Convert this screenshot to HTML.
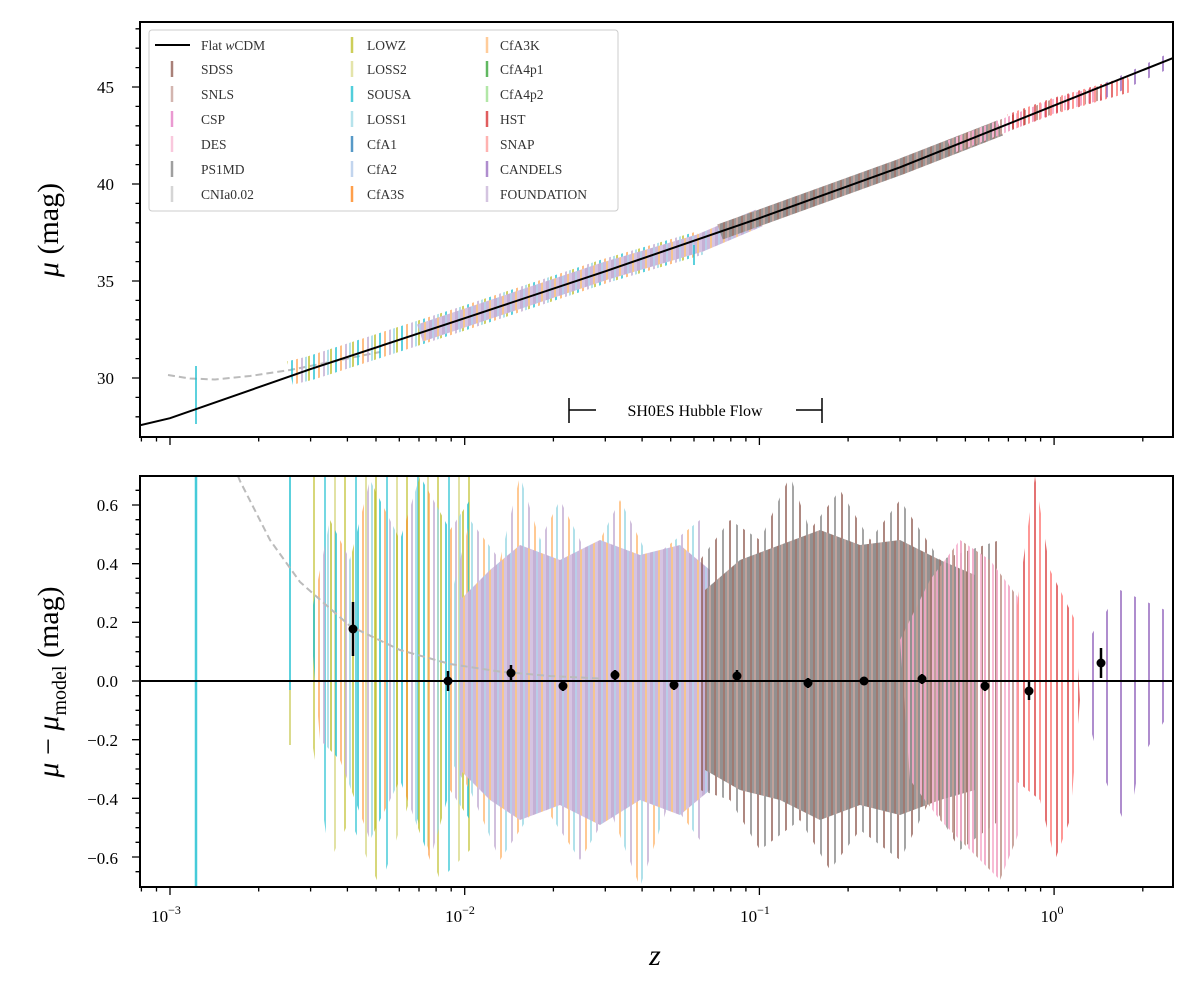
<!DOCTYPE html>
<html><head><meta charset="utf-8"><style>
html,body{margin:0;padding:0;background:#fff;}
svg{display:block;font-family:"Liberation Serif",serif;}
</style></head><body>
<svg width="1202" height="981" viewBox="0 0 1202 981" xmlns="http://www.w3.org/2000/svg">
<defs>
<clipPath id="c1"><rect x="140" y="22" width="1033" height="415"/></clipPath>
<clipPath id="c2"><rect x="140" y="476" width="1033" height="411"/></clipPath>
<pattern id="pLow" patternUnits="userSpaceOnUse" width="22" height="10">
<rect x="0" width="2" height="10" fill="#bcbd22" fill-opacity="0.7"/>
<rect x="5" width="2" height="10" fill="#17becf" fill-opacity="0.7"/>
<rect x="10" width="2" height="10" fill="#ff7f0e" fill-opacity="0.5"/>
<rect x="15" width="2" height="10" fill="#c5b0d5" fill-opacity="0.8"/>
<rect x="19" width="2" height="10" fill="#9edae5" fill-opacity="0.8"/>
</pattern>
<pattern id="pLow2" patternUnits="userSpaceOnUse" width="31" height="10">
<rect x="3" width="2" height="10" fill="#bcbd22" fill-opacity="0.6"/>
<rect x="14" width="2" height="10" fill="#17becf" fill-opacity="0.6"/>
<rect x="24" width="2" height="10" fill="#dbdb8d" fill-opacity="0.8"/>
</pattern>
<pattern id="pMid" patternUnits="userSpaceOnUse" width="13" height="10">
<rect x="0" width="3" height="10" fill="#c5b0d5"/>
<rect x="3" width="2" height="10" fill="#b9cde8"/>
<rect x="5" width="3" height="10" fill="#cdb9dc"/>
<rect x="8" width="2" height="10" fill="#f5c590"/>
<rect x="10" width="3" height="10" fill="#d6c4e2"/>
</pattern>
<pattern id="pMid2" patternUnits="userSpaceOnUse" width="17" height="10">
<rect x="1" width="2" height="10" fill="#c5b0d5" fill-opacity="0.8"/>
<rect x="7" width="2" height="10" fill="#ffbb78" fill-opacity="0.8"/>
<rect x="12" width="2" height="10" fill="#9edae5" fill-opacity="0.8"/>
</pattern>
<pattern id="pHigh" patternUnits="userSpaceOnUse" width="9" height="10">
<rect x="0" width="3" height="10" fill="#939090"/>
<rect x="3" width="2" height="10" fill="#a07a72"/>
<rect x="5" width="2" height="10" fill="#9a9898"/>
<rect x="7" width="2" height="10" fill="#c0a29c"/>
</pattern>
<pattern id="pHigh2" patternUnits="userSpaceOnUse" width="14" height="10">
<rect x="1" width="2" height="10" fill="#8c564b" fill-opacity="0.7"/>
<rect x="8" width="2" height="10" fill="#7f7f7f" fill-opacity="0.7"/>
</pattern>
<pattern id="pPink" patternUnits="userSpaceOnUse" width="12" height="10">
<rect x="0" width="2" height="10" fill="#f2a7c6"/>
<rect x="4" width="2" height="10" fill="#c49c94"/>
<rect x="8" width="2" height="10" fill="#f7b6d2"/>
</pattern>
<pattern id="pRed" patternUnits="userSpaceOnUse" width="11" height="10">
<rect x="0" width="2" height="10" fill="#d62728" fill-opacity="0.65"/>
<rect x="5" width="2" height="10" fill="#ff9896"/>
</pattern>
<pattern id="pPurp" patternUnits="userSpaceOnUse" width="14" height="10">
<rect x="0" width="2" height="10" fill="#9467bd" fill-opacity="0.75"/>
</pattern>
</defs>
<rect width="1202" height="981" fill="#fff"/>

<!-- TOP PANEL DATA -->
<g clip-path="url(#c1)">
<path d="M168,375 L190,378.5 L215,379.5 L250,376 L290,370 L330,362 L380,352" fill="none" stroke="#bbb" stroke-width="2" stroke-dasharray="7,4"/>
<path d="M290,373 L310.6,368 L464.7,318 L605.3,271 L700,243" fill="none" stroke="url(#pLow)" stroke-width="24"/>
<path d="M420,333 L464.7,318 L605.3,271 L700,243 L759,218" fill="none" stroke="url(#pMid)" stroke-width="18"/>
<path d="M720,232 L759,218 L900,167 L1000,128" fill="none" stroke="url(#pHigh)" stroke-width="16"/>
<path d="M950,147 L1054,106 L1100,93" fill="none" stroke="url(#pPink)" stroke-width="14"/>
<path d="M1010,122 L1054,106 L1130,84" fill="none" stroke="url(#pRed)" stroke-width="16"/>
<path d="M1100,93 L1171,60" fill="none" stroke="url(#pPurp)" stroke-width="14"/>
<line x1="196" y1="366" x2="196" y2="424" stroke="#17becf" stroke-width="2" stroke-opacity="0.7"/>
<line x1="694" y1="245" x2="694" y2="265" stroke="#17becf" stroke-width="2" stroke-opacity="0.7"/>
<path d="M140,425.3 L170,418.2 L310.6,369.1 L464.7,318.2 L605.3,271.3 L759,218.3 L900,167.3 L1054,105.6 L1173,58" fill="none" stroke="#000" stroke-width="2"/>
</g>

<!-- BOTTOM PANEL DATA -->
<g clip-path="url(#c2)">
<line x1="196" y1="476" x2="196" y2="887" stroke="#17becf" stroke-width="2.5" stroke-opacity="0.8"/>
<line x1="290" y1="476" x2="290" y2="715" stroke="#17becf" stroke-width="2" stroke-opacity="0.7"/>
<line x1="290" y1="690" x2="290" y2="745" stroke="#dbdb8d" stroke-width="2"/>
<polygon points="305,476 470,476 470,850 440,880 410,800 380,887 350,820 330,860 315,760 305,700" fill="url(#pLow2)"/>
<polygon points="310,620 330,520 350,560 370,480 400,540 420,476 450,530 470,500 470,820 450,790 430,860 400,780 370,840 340,760 320,740" fill="url(#pLow)"/>
<polygon points="450,600 470,520 500,560 520,476 540,540 560,500 590,560 620,500 650,560 700,520 700,840 670,800 640,887 610,810 580,860 540,800 500,860 470,790 450,760" fill="url(#pMid2)"/>
<polygon points="460,600 490,570 520,545 560,560 600,540 640,555 680,545 710,570 710,790 680,815 640,800 600,825 560,805 520,820 490,800 460,770" fill="url(#pMid)"/>
<polygon points="700,560 730,520 760,540 790,476 810,530 840,490 870,540 900,500 940,560 1000,540 1000,820 960,850 930,800 900,860 860,830 830,870 800,820 760,850 730,800 700,790" fill="url(#pHigh2)"/>
<polygon points="705,590 740,560 780,545 820,530 860,545 900,540 940,560 975,575 975,790 940,800 900,815 860,805 820,820 780,800 740,790 705,770" fill="url(#pHigh)"/>
<polygon points="900,640 930,580 960,540 990,560 1020,600 1020,830 1000,880 970,850 940,820 910,780" fill="url(#pPink)" fill-opacity="0.9"/>
<polygon points="1015,620 1035,476 1050,570 1075,620 1080,700 1070,820 1055,860 1040,800 1015,780" fill="url(#pRed)"/>
<polygon points="1088,640 1120,590 1165,610 1165,720 1140,760 1128,830 1105,780 1088,720" fill="url(#pPurp)"/>
<path d="M238,476 L240,481 L270,540 L300,582 L350,626 L400,650 L450,664 L500,671.6 L550,676 L600,678.5" fill="none" stroke="#bbb" stroke-width="2" stroke-dasharray="7,4"/>
<line x1="140" y1="681" x2="1173" y2="681" stroke="#000" stroke-width="2"/>
<g stroke="#000" stroke-width="2.5">
<line x1="353" y1="602" x2="353" y2="656"/><line x1="448" y1="671" x2="448" y2="691"/><line x1="511" y1="665" x2="511" y2="681"/>
<line x1="563" y1="681" x2="563" y2="691"/><line x1="615" y1="670" x2="615" y2="680"/><line x1="674" y1="680" x2="674" y2="690"/>
<line x1="737" y1="670" x2="737" y2="682"/><line x1="808" y1="678" x2="808" y2="688"/><line x1="864" y1="677" x2="864" y2="685"/>
<line x1="922" y1="674" x2="922" y2="684"/><line x1="985" y1="681" x2="985" y2="691"/><line x1="1029" y1="682" x2="1029" y2="700"/>
<line x1="1101" y1="648" x2="1101" y2="678"/>
</g>
<g fill="#000">
<circle cx="353" cy="629" r="4.5"/><circle cx="448" cy="681" r="4.5"/><circle cx="511" cy="673" r="4.5"/><circle cx="563" cy="686" r="4.5"/>
<circle cx="615" cy="675" r="4.5"/><circle cx="674" cy="685" r="4.5"/><circle cx="737" cy="676" r="4.5"/><circle cx="808" cy="683" r="4.5"/>
<circle cx="864" cy="681" r="4.5"/><circle cx="922" cy="679" r="4.5"/><circle cx="985" cy="686" r="4.5"/><circle cx="1029" cy="691" r="4.5"/>
<circle cx="1101" cy="663" r="4.5"/>
</g>
</g>

<rect x="140" y="22" width="1033" height="415" fill="none" stroke="#000" stroke-width="2"/>
<rect x="140" y="476" width="1033" height="411" fill="none" stroke="#000" stroke-width="2"/>
<g stroke="#000" stroke-width="1.3" fill="none">
<path d="M170,437v8M464.7,437v8M759.4,437v8M1054.1,437v8M170,887v8M464.7,887v8M759.4,887v8M1054.1,887v8"/>
<path d="M141.4,437v4.5M156.5,437v4.5M258.7,437v4.5M310.6,437v4.5M347.4,437v4.5M376,437v4.5M399.3,437v4.5M419,437v4.5M436.1,437v4.5M451.2,437v4.5M553.4,437v4.5M605.3,437v4.5M642.1,437v4.5M670.7,437v4.5M694,437v4.5M713.7,437v4.5M730.8,437v4.5M745.9,437v4.5M848.1,437v4.5M900,437v4.5M936.8,437v4.5M965.4,437v4.5M988.7,437v4.5M1008.4,437v4.5M1025.5,437v4.5M1040.6,437v4.5M1142.8,437v4.5"/>
<path d="M141.4,887v4.5M156.5,887v4.5M258.7,887v4.5M310.6,887v4.5M347.4,887v4.5M376,887v4.5M399.3,887v4.5M419,887v4.5M436.1,887v4.5M451.2,887v4.5M553.4,887v4.5M605.3,887v4.5M642.1,887v4.5M670.7,887v4.5M694,887v4.5M713.7,887v4.5M730.8,887v4.5M745.9,887v4.5M848.1,887v4.5M900,887v4.5M936.8,887v4.5M965.4,887v4.5M988.7,887v4.5M1008.4,887v4.5M1025.5,887v4.5M1040.6,887v4.5M1142.8,887v4.5"/>
<path d="M140,378h-8M140,281h-8M140,184h-8M140,87h-8"/>
<path d="M140,416.8h-4.5M140,397.4h-4.5M140,358.6h-4.5M140,339.2h-4.5M140,319.8h-4.5M140,300.4h-4.5M140,261.6h-4.5M140,242.2h-4.5M140,222.8h-4.5M140,203.4h-4.5M140,164.6h-4.5M140,145.2h-4.5M140,125.8h-4.5M140,106.4h-4.5M140,67.6h-4.5M140,48.2h-4.5M140,28.8h-4.5"/>
<path d="M140,505h-8M140,563.7h-8M140,622.3h-8M140,681h-8M140,739.7h-8M140,798.3h-8M140,857h-8"/>
<path d="M140,490.3h-4.5M140,519.7h-4.5M140,534.3h-4.5M140,549h-4.5M140,578.3h-4.5M140,593h-4.5M140,607.7h-4.5M140,637h-4.5M140,651.7h-4.5M140,666.3h-4.5M140,695.7h-4.5M140,710.3h-4.5M140,725h-4.5M140,754.3h-4.5M140,769h-4.5M140,783.7h-4.5M140,813h-4.5M140,827.7h-4.5M140,842.3h-4.5M140,871.7h-4.5"/>
</g>

<g font-size="13.5" fill="#333">
<rect x="149" y="30" width="469" height="181" rx="3" fill="#fff" fill-opacity="0.9" stroke="#ccc"/>
<line x1="155" y1="45" x2="190" y2="45" stroke="#000" stroke-width="2"/>
<text x="201" y="50">Flat <tspan font-style="italic">w</tspan>CDM</text>
<text x="201" y="74">SDSS</text><text x="201" y="99">SNLS</text><text x="201" y="124">CSP</text>
<text x="201" y="149">DES</text><text x="201" y="174">PS1MD</text><text x="201" y="199">CNIa0.02</text>
<text x="367" y="50">LOWZ</text><text x="367" y="74">LOSS2</text><text x="367" y="99">SOUSA</text>
<text x="367" y="124">LOSS1</text><text x="367" y="149">CfA1</text><text x="367" y="174">CfA2</text><text x="367" y="199">CfA3S</text>
<text x="500" y="50">CfA3K</text><text x="500" y="74">CfA4p1</text><text x="500" y="99">CfA4p2</text>
<text x="500" y="124">HST</text><text x="500" y="149">SNAP</text><text x="500" y="174">CANDELS</text><text x="500" y="199">FOUNDATION</text>
</g>
<g stroke-width="2.5" stroke-opacity="0.75">
<line x1="172" y1="61" x2="172" y2="77" stroke="#8c564b"/><line x1="172" y1="86" x2="172" y2="102" stroke="#c49c94"/>
<line x1="172" y1="111" x2="172" y2="127" stroke="#e377c2"/><line x1="172" y1="136" x2="172" y2="152" stroke="#f7b6d2"/>
<line x1="172" y1="161" x2="172" y2="177" stroke="#7f7f7f"/><line x1="172" y1="186" x2="172" y2="202" stroke="#c7c7c7"/>
<line x1="352" y1="37" x2="352" y2="53" stroke="#bcbd22"/><line x1="352" y1="61" x2="352" y2="77" stroke="#dbdb8d"/>
<line x1="352" y1="86" x2="352" y2="102" stroke="#17becf"/><line x1="352" y1="111" x2="352" y2="127" stroke="#9edae5"/>
<line x1="352" y1="136" x2="352" y2="152" stroke="#1f77b4"/><line x1="352" y1="161" x2="352" y2="177" stroke="#aec7e8"/>
<line x1="352" y1="186" x2="352" y2="202" stroke="#ff7f0e"/>
<line x1="487" y1="37" x2="487" y2="53" stroke="#ffbb78"/><line x1="487" y1="61" x2="487" y2="77" stroke="#2ca02c"/>
<line x1="487" y1="86" x2="487" y2="102" stroke="#98df8a"/><line x1="487" y1="111" x2="487" y2="127" stroke="#d62728"/>
<line x1="487" y1="136" x2="487" y2="152" stroke="#ff9896"/><line x1="487" y1="161" x2="487" y2="177" stroke="#9467bd"/>
<line x1="487" y1="186" x2="487" y2="202" stroke="#c5b0d5"/>
</g>

<g stroke="#000" stroke-width="1.5">
<line x1="569" y1="398" x2="569" y2="423"/><line x1="822" y1="398" x2="822" y2="423"/>
<line x1="569" y1="410" x2="596" y2="410"/><line x1="796" y1="410" x2="822" y2="410"/>
</g>
<text x="695" y="416" font-size="16" text-anchor="middle">SH0ES Hubble Flow</text>

<text x="655" y="965" font-size="30" font-style="italic" text-anchor="middle">z</text>
<text transform="translate(58,230) rotate(-90)" font-size="30" text-anchor="middle"><tspan font-style="italic">μ</tspan> (mag)</text>
<text transform="translate(58,682) rotate(-90)" font-size="30" text-anchor="middle"><tspan font-style="italic">μ</tspan> − <tspan font-style="italic">μ</tspan><tspan font-size="20" dy="8">model</tspan><tspan dy="-8"> (mag)</tspan></text>
<g font-size="17" text-anchor="end">
<text x="114" y="384">30</text><text x="114" y="287">35</text><text x="114" y="190">40</text><text x="114" y="93">45</text>
<text x="118" y="511">0.6</text><text x="118" y="570">0.4</text><text x="118" y="628">0.2</text><text x="118" y="687">0.0</text>
<text x="118" y="746">−0.2</text><text x="118" y="805">−0.4</text><text x="118" y="864">−0.6</text>
</g>
<g font-size="17" text-anchor="middle">
<text x="166" y="922">10<tspan font-size="12" dy="-8">−3</tspan></text>
<text x="460" y="922">10<tspan font-size="12" dy="-8">−2</tspan></text>
<text x="755" y="922">10<tspan font-size="12" dy="-8">−1</tspan></text>
<text x="1052" y="922">10<tspan font-size="12" dy="-8">0</tspan></text>
</g>
</svg>
</body></html>
